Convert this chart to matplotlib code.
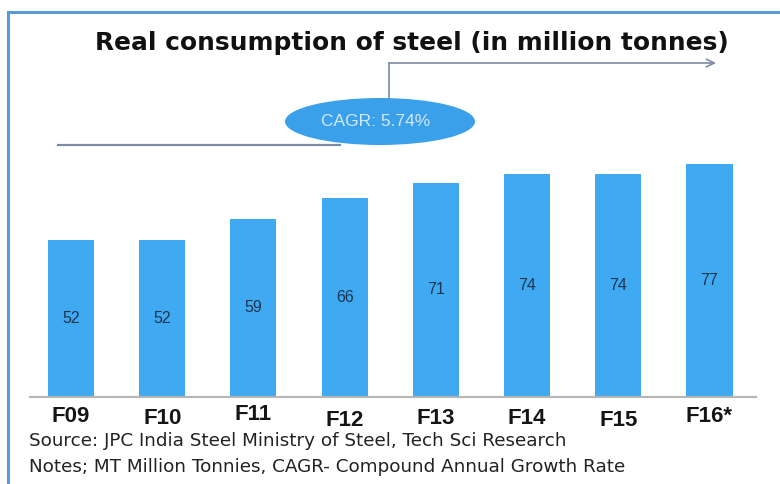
import matplotlib
matplotlib.use("Agg")
import matplotlib.pyplot as plt
from matplotlib.patches import Ellipse, Rectangle
from matplotlib.lines import Line2D

# --- data -------------------------------------------------------------
years = ["F09", "F10", "F11", "F12", "F13", "F14", "F15", "F16*"]
consumption = [52, 52, 59, 66, 71, 74, 74, 77]
cagr_text = "CAGR: 5.74%"
title = "Real consumption of steel (in million tonnes)"
source_note = "Source: JPC India Steel Ministry of Steel, Tech Sci Research"
units_note = "Notes; MT Million Tonnies, CAGR- Compound Annual Growth Rate"

W, H = 780, 484
fig = plt.figure(figsize=(W / 100, H / 100), dpi=100)
fig.patch.set_facecolor("white")

def fx(px):
    return px / W

def fy(py):
    return 1 - py / H

sans = "Liberation Sans"
wide = "DejaVu Sans"

# outer frame
fig.add_artist(Rectangle((fx(8), fy(900)), 2, fy(12) - fy(900),
                         transform=fig.transFigure, fill=False,
                         edgecolor="#5B9BD5", linewidth=2.2))

# plot area
ax_left, ax_right, ax_top, ax_base = 30, 756, 150, 397
ax = fig.add_axes([fx(ax_left), fy(ax_base), fx(ax_right - ax_left),
                   (ax_base - ax_top) / H])
ax.set_facecolor("none")
x = list(range(len(years)))
ax.bar(x, consumption, width=0.505, color="#3FA9F1", zorder=2)
# bar centres sit at 71 px and 709.5 px, 91.2 px apart
ax.set_xlim(-41 / 91.2, len(years) - 1 + (ax_right - 709.5) / 91.2)
ax.set_ylim(0, 81.8)
for s in ["top", "right", "left"]:
    ax.spines[s].set_visible(False)
ax.spines["bottom"].set_color("#B5B5B5")
ax.spines["bottom"].set_linewidth(1.5)
ax.set_yticks([])
ax.set_xticks([])

# values inside bars
for xi, v in zip(x, consumption):
    ax.text(xi, v / 2, str(v), ha="center", va="center", fontsize=11.5,
            color="#1E3550", family=sans)

# staggered category labels (pixel drop below the baseline)
label_drop_px = [19, 22, 17, 23, 22, 21, 24, 19]
for xi, lab, d in zip(x, years, label_drop_px):
    ax.annotate(lab, (xi, 0), xytext=(0, -d * 0.72), textcoords="offset points",
                ha="center", va="center", fontsize=16, fontweight="bold",
                family=sans, color="#151515")

# title
fig.text(fx(412), fy(43), title, ha="center", va="center", fontsize=17.9,
         fontweight="bold", family=wide, color="#111111")

# growth callout
line_c = "#7D8CA3"
ax_ann = fig.add_axes([0, 0, 1, 1], facecolor="none")
ax_ann.set_xlim(0, W)
ax_ann.set_ylim(H, 0)
ax_ann.axis("off")
ax_ann.add_line(Line2D([58, 340], [145, 145], color=line_c, lw=1.6))
ax_ann.add_line(Line2D([389, 389], [100, 63], color=line_c, lw=1.2))
ax_ann.annotate("", xy=(716, 63), xytext=(389, 63),
                arrowprops=dict(arrowstyle="->", color=line_c, lw=1.2,
                                shrinkA=0, shrinkB=0, mutation_scale=14))
ax_ann.add_patch(Ellipse((380, 121.5), 190, 47, facecolor="#3AA0EA",
                         edgecolor="none", zorder=3))
ax_ann.text(376, 122, cagr_text, ha="center", va="center", fontsize=12.5,
            color="#D2E9FA", family=sans, zorder=4)

# footnotes
fig.text(fx(29), fy(441), source_note, ha="left", va="center", fontsize=13.2,
         family=wide, color="#222222")
fig.text(fx(29), fy(467), units_note, ha="left", va="center", fontsize=13.2,
         family=wide, color="#222222")

fig.savefig("out.png", dpi=100, facecolor="white")
